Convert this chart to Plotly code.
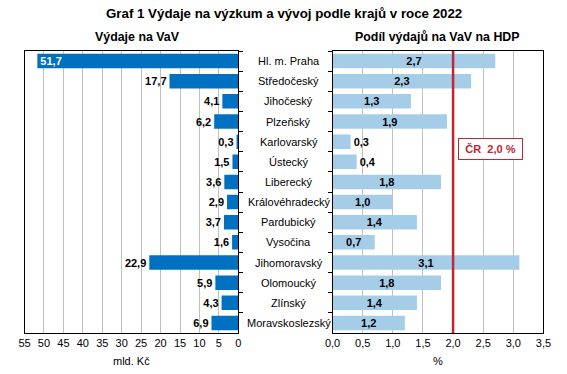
import plotly.graph_objects as go

regions = ["Hl. m. Praha", "Středočeský", "Jihočeský", "Plzeňský", "Karlovarský",
           "Ústecký", "Liberecký", "Královéhradecký", "Pardubický", "Vysočina",
           "Jihomoravský", "Olomoucký", "Zlínský", "Moravskoslezský"]
spending = [51.7, 17.7, 4.1, 6.2, 0.3, 1.5, 3.6, 2.9, 3.7, 1.6, 22.9, 5.9, 4.3, 6.9]
share_gdp = [2.7, 2.3, 1.3, 1.9, 0.3, 0.4, 1.8, 1.0, 1.4, 0.7, 3.1, 1.8, 1.4, 1.2]
cr_share = 2.0
left_ticks = list(range(0, 60, 5))
right_ticks = [0.0, 0.5, 1.0, 1.5, 2.0, 2.5, 3.0, 3.5]

def cz(v):
    return f"{v:.1f}".replace(".", ",")

W, H = 567, 374
FONT = "Liberation Sans, Arial, sans-serif"
DARK = "#0070C0"
LIGHT = "#A6CDE8"
RED = "#C0262D"
GRID = "#C0C0C0"

fig = go.Figure()

left_pos = ["inside" if v > 30 else "outside" for v in spending]
fig.add_trace(go.Bar(
    x=spending, y=regions, orientation="h", xaxis="x", yaxis="y",
    marker=dict(color=DARK, line=dict(width=0)), width=0.72,
    text=[cz(v) for v in spending], textposition=left_pos,
    insidetextanchor="end",
    insidetextfont=dict(family=FONT, size=11, color="white", weight="bold"),
    outsidetextfont=dict(family=FONT, size=11, color="black", weight="bold"),
    cliponaxis=False, constraintext="none", hoverinfo="skip",
))

right_pos = ["outside" if v < 0.5 else "inside" for v in share_gdp]
fig.add_trace(go.Bar(
    x=share_gdp, y=regions, orientation="h", xaxis="x2", yaxis="y2",
    marker=dict(color=LIGHT, line=dict(width=0)), width=0.72,
    text=[cz(v) for v in share_gdp], textposition=right_pos,
    insidetextanchor="middle",
    insidetextfont=dict(family=FONT, size=11, color="black", weight="bold"),
    outsidetextfont=dict(family=FONT, size=11, color="black", weight="bold"),
    cliponaxis=False, constraintext="none", hoverinfo="skip",
))

ydom = [1 - 333 / H, 1 - 51 / H]
xdom1 = [17 / W, 237 / W]
xdom2 = [334 / W, 551 / W]

axis_font = dict(family=FONT, size=11, color="black")

fig.update_layout(
    width=W, height=H, margin=dict(l=0, r=0, t=0, b=0),
    paper_bgcolor="white", plot_bgcolor="white", showlegend=False,
    xaxis=dict(domain=xdom1, range=[55, 0], tickvals=left_ticks,
               ticktext=[str(t) for t in left_ticks], tickfont=axis_font,
               showgrid=True, gridcolor=GRID, gridwidth=1, zeroline=False,
               showline=True, linecolor="black", linewidth=1, mirror=True,
               ticks="", anchor="y"),
    yaxis=dict(domain=ydom, categoryorder="array", categoryarray=regions,
               autorange="reversed", side="right", showticklabels=False,
               ticks="outside", ticklen=4, tickcolor="black", tickson="boundaries",
               showline=True, linecolor="black", linewidth=1, mirror=True,
               showgrid=False, anchor="x"),
    xaxis2=dict(domain=xdom2, range=[0, 3.5], tickvals=right_ticks,
                ticktext=[cz(t) for t in right_ticks], tickfont=axis_font,
                showgrid=True, gridcolor=GRID, gridwidth=1, zeroline=False,
                showline=True, linecolor="black", linewidth=1, mirror=True,
                ticks="", anchor="y2"),
    yaxis2=dict(domain=ydom, categoryorder="array", categoryarray=regions,
                autorange="reversed", side="left", showticklabels=False,
                ticks="outside", ticklen=4, tickcolor="black", tickson="boundaries",
                showline=True, linecolor="black", linewidth=1, mirror=True,
                showgrid=False, anchor="x2"),
)

# red national line
fig.add_shape(type="line", xref="x2", yref="paper", x0=cr_share, x1=cr_share,
              y0=ydom[0], y1=ydom[1], line=dict(color=RED, width=2.5))

# category labels between panels
for r in regions:
    fig.add_annotation(x=289 / W, xref="paper", y=r, yref="y", text=r,
                       showarrow=False, font=dict(family=FONT, size=11, color="black"),
                       xanchor="center", yanchor="middle")

# ČR box
fig.add_annotation(x=2.62, xref="x2", y=4.37, yref="y2",
                   text="ČR  " + cz(cr_share) + " %", showarrow=False,
                   font=dict(family=FONT, size=11, color=RED, weight="bold"),
                   bordercolor=RED, borderwidth=1, borderpad=4, bgcolor="white",
                   width=55, height=12, align="center",
                   xanchor="center", yanchor="middle")

# titles
fig.add_annotation(x=284 / W, y=1 - 13 / H, xref="paper", yref="paper",
                   text="<b>Graf 1 Výdaje na výzkum a vývoj podle krajů v roce 2022</b>",
                   showarrow=False, font=dict(family=FONT, size=13.3, color="black"),
                   xanchor="center", yanchor="middle")
fig.add_annotation(x=133.5 / W, y=1 - 36.5 / H, xref="paper", yref="paper",
                   text="<b>Výdaje na VaV</b>", showarrow=False,
                   font=dict(family=FONT, size=12.4, color="black"),
                   xanchor="center", yanchor="middle")
fig.add_annotation(x=442 / W, y=1 - 36.5 / H, xref="paper", yref="paper",
                   text="<b>Podíl výdajů na VaV na HDP</b>", showarrow=False,
                   font=dict(family=FONT, size=12.4, color="black"),
                   xanchor="center", yanchor="middle")
fig.add_annotation(x=127 / W, y=1 - 361 / H, xref="paper", yref="paper",
                   text="mld. Kč", showarrow=False,
                   font=dict(family=FONT, size=11, color="black"),
                   xanchor="center", yanchor="middle")
fig.add_annotation(x=443 / W, y=1 - 361 / H, xref="paper", yref="paper",
                   text="%", showarrow=False,
                   font=dict(family=FONT, size=11, color="black"),
                   xanchor="center", yanchor="middle")

fig.write_html("out.html", config={"displayModeBar": False},
               post_script="document.body.style.margin='0px';document.body.style.overflow='hidden';")
